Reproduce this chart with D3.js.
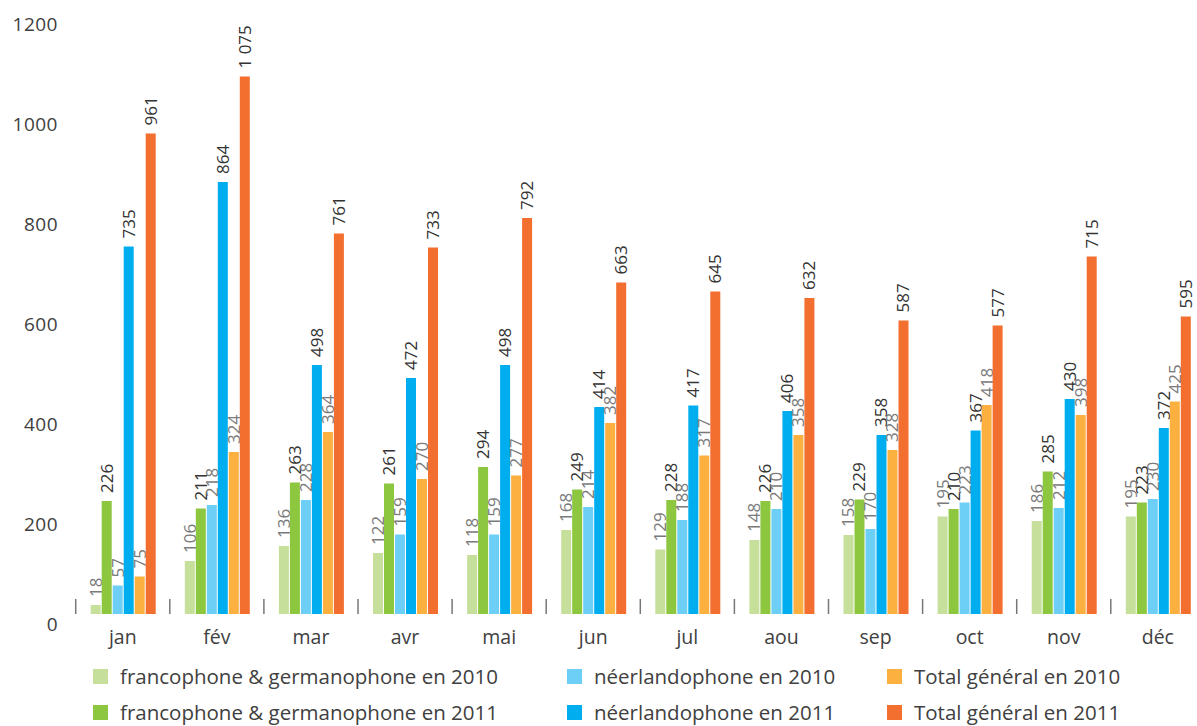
<!DOCTYPE html>
<html>
<head>
<meta charset="utf-8">
<script src="https://cdn.jsdelivr.net/npm/d3@7.9.0/dist/d3.min.js"></script>
<style>
  body { margin: 0; background: #fff; }
  svg { display: block; font-family: "Open Sans", sans-serif; }
</style>
</head>
<body>
<svg width="1197" height="726"></svg>
<script>
// data
const months = ['jan', 'fév', 'mar', 'avr', 'mai', 'jun', 'jul', 'aou', 'sep', 'oct', 'nov', 'déc'];
const fr2010 = [18, 106, 136, 122, 118, 168, 129, 148, 158, 195, 186, 195];
const fr2011 = [226, 211, 263, 261, 294, 249, 228, 226, 229, 210, 285, 223];
const nl2010 = [57, 218, 228, 159, 159, 214, 188, 210, 170, 223, 212, 230];
const nl2011 = [735, 864, 498, 472, 498, 414, 417, 406, 358, 367, 430, 372];
const tot2010 = [75, 324, 364, 270, 277, 382, 317, 358, 328, 418, 398, 425];
const tot2011 = [961, 1075, 761, 733, 792, 663, 645, 632, 587, 577, 715, 595];
const yTicks = [0, 200, 400, 600, 800, 1000, 1200];

const series = [
  { name: 'francophone & germanophone en 2010', values: fr2010, color: '#c6e09c', label: '#7a7a7a' },
  { name: 'francophone & germanophone en 2011', values: fr2011, color: '#8dc63f', label: '#333' },
  { name: 'néerlandophone en 2010', values: nl2010, color: '#6dcff6', label: '#7a7a7a' },
  { name: 'néerlandophone en 2011', values: nl2011, color: '#00aeef', label: '#333' },
  { name: 'Total général en 2010', values: tot2010, color: '#fbb040', label: '#7a7a7a' },
  { name: 'Total général en 2011', values: tot2011, color: '#f26f2f', label: '#333' },
];

const svg = d3.select('svg');
const fmt = d3.formatLocale({ decimal: ',', thousands: ' ', grouping: [3], currency: ['', ' €'] }).format(',d');

const x0 = d3.scaleBand().domain(months).range([75.7, 75.7 + 12 * 94.1]);
const x1 = d3.scaleBand().domain(d3.range(series.length)).range([15, 81]);
const y = d3.scaleLinear().domain([0, 1200]).range([614, 14]);

// y axis labels (no line, no ticks)
svg.append('g')
  .attr('transform', 'translate(58,0)')
  .call(d3.axisLeft(y).tickValues(yTicks).tickSize(0).tickPadding(0).tickFormat(d => d))
  .call(g => g.select('.domain').remove())
  .call(g => g.selectAll('text')
    .attr('dy', '0.32em')
    .attr('transform', 'translate(0,10)')
    .attr('fill', '#404040')
    .attr('font-size', 19)
    .attr('font-family', '"Open Sans", sans-serif')
    .style('letter-spacing', '0.5px'));

// month groups
const groups = svg.append('g').selectAll('g')
  .data(months)
  .join('g')
  .attr('transform', d => `translate(${x0(d)},0)`);

groups.append('line')
  .attr('x1', 0).attr('x2', 0)
  .attr('y1', y(0) - 15).attr('y2', y(0))
  .attr('stroke', '#777').attr('stroke-width', 1.5);

groups.append('text')
  .attr('x', x0.bandwidth() / 2)
  .attr('y', 638)
  .attr('dy', '0.32em')
  .attr('text-anchor', 'middle')
  .attr('fill', '#404040')
  .attr('font-size', 19.5)
  .text(d => d);

groups.each(function (m, i) {
  const g = d3.select(this);
  series.forEach((s, k) => {
    const v = s.values[i];
    g.append('rect')
      .attr('x', x1(k))
      .attr('y', y(v))
      .attr('width', x1.bandwidth() - 1)
      .attr('height', y(0) - y(v))
      .attr('fill', s.color);
    const cx = x1(k) + (x1.bandwidth() - 1) / 2;
    g.append('text')
      .attr('transform', `translate(${cx},${y(v) - 8}) rotate(-90)`)
      .attr('dy', '0.35em')
      .attr('text-anchor', 'start')
      .attr('fill', s.label)
      .attr('font-size', 17)
      .text(fmt(v));
  });
});

// legend: 3 columns x 2 rows
const legendX = [93, 567, 887];
const legendY = [677, 713];
const legend = svg.append('g').selectAll('g')
  .data(series)
  .join('g')
  .attr('transform', (d, k) => `translate(${legendX[Math.floor(k / 2)]},${legendY[k % 2]})`);

legend.append('rect')
  .attr('x', 0).attr('y', -8)
  .attr('width', 15).attr('height', 15)
  .attr('fill', d => d.color);

legend.append('text')
  .attr('x', 27)
  .attr('y', 0)
  .attr('dy', '0.35em')
  .attr('fill', '#404040')
  .attr('font-size', 20.5)
  .text(d => d.name);
</script>
</body>
</html>
